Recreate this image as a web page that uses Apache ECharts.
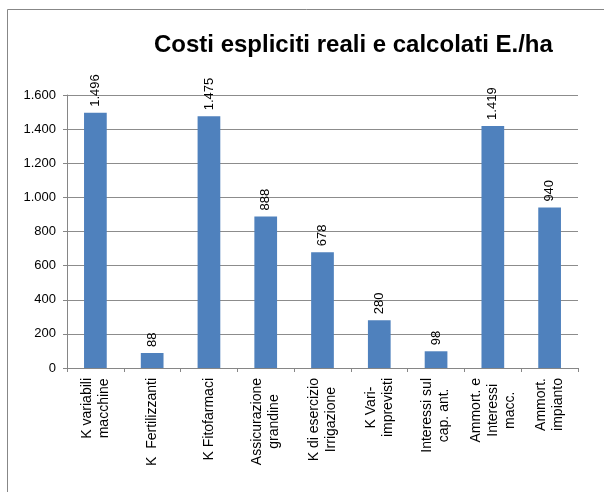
<!DOCTYPE html>
<html>
<head>
<meta charset="utf-8">
<script src="https://cdn.jsdelivr.net/npm/echarts@6/dist/echarts.min.js"></script>
<style>
html,body{margin:0;padding:0;background:#fff;}
#chart{width:604px;height:492px;}
</style>
</head>
<body>
<div id="chart"></div>
<script>
var categories = ['K variabili\nmacchine', 'K  Fertilizzanti', 'K Fitofarmaci', 'Assicurazione\ngrandine', 'K di esercizio\nIrrigazione', 'K Vari-\nimprevisti', 'Interessi sul\ncap. ant.', 'Ammort. e\nInteressi\nmacc.', 'Ammort.\nimpianto'];
var values = [1496, 88, 1475, 888, 678, 280, 98, 1419, 940];
var yMin = 0, yMax = 1600, yStep = 200;
var titleText = 'Costi espliciti reali e calcolati E./ha';

function fmt(v) { return String(v).replace(/\B(?=(\d{3})+(?!\d))/g, '.'); }

var FONT = '"Liberation Sans", Arial, sans-serif';
var chart = echarts.init(document.getElementById('chart'), null, {renderer: 'canvas'});
chart.setOption({
  animation: false,
  backgroundColor: '#fff',
  title: {
    text: titleText,
    left: 154, top: 33, padding: 0,
    textStyle: {fontFamily: FONT, fontSize: 24, fontWeight: 'bold', color: '#000'}
  },
  graphic: [{
    type: 'rect', silent: true,
    shape: {x: 7.5, y: 9.5, width: 700, height: 600},
    style: {fill: 'none', stroke: '#878787', lineWidth: 1}
  }],
  grid: {left: 67, right: 26, top: 95, bottom: 124, containLabel: false},
  xAxis: {
    type: 'category',
    data: categories,
    axisLine: {show: true, lineStyle: {color: '#868686', width: 1}},
    axisTick: {show: true, alignWithLabel: false, length: 4, lineStyle: {color: '#868686'}},
    axisLabel: {
      interval: 0, rotate: 90, margin: 10, color: '#000',
      fontFamily: FONT, fontSize: 14, hideOverlap: false,
      formatter: function (v) {
        return v.split('\n').map(function (l) { return '{c|' + l + '}'; }).join('\n');
      },
      rich: {c: {align: 'center', fontFamily: FONT, fontSize: 14, lineHeight: 17, color: '#000'}}
    },
    splitLine: {show: false}
  },
  yAxis: {
    type: 'value',
    min: yMin, max: yMax, interval: yStep,
    axisLine: {show: true, lineStyle: {color: '#868686', width: 1}},
    axisTick: {show: true, length: 4, lineStyle: {color: '#868686'}},
    axisLabel: {
      margin: 11, color: '#000', fontFamily: FONT, fontSize: 13,
      formatter: function (v) { return fmt(v); }
    },
    splitLine: {show: true, lineStyle: {color: '#8c8c8c', width: 1}}
  },
  series: [{
    type: 'bar',
    data: values,
    barWidth: '40%',
    itemStyle: {color: '#4F81BD'},
    label: {
      show: true, position: 'top', rotate: 90, align: 'left', verticalAlign: 'middle',
      distance: 6, color: '#000', fontFamily: FONT, fontSize: 13,
      formatter: function (p) { return fmt(p.value); }
    }
  }]
});
</script>
</body>
</html>
